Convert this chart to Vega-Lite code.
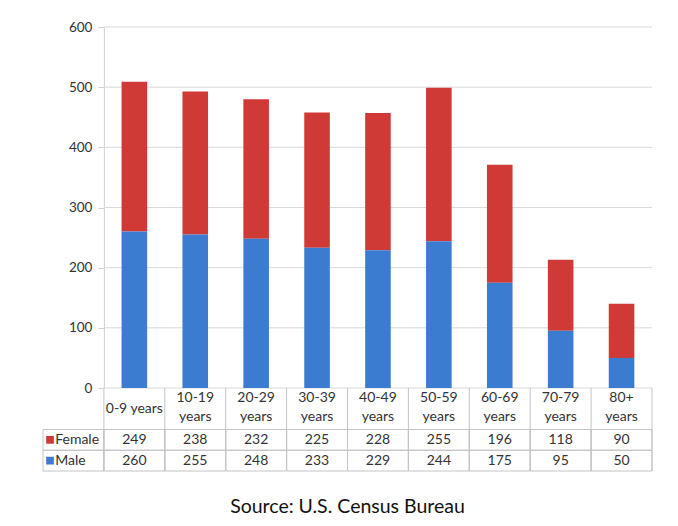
{
  "$schema": "https://vega.github.io/schema/vega-lite/v6.json",
  "padding": {"left": 42, "top": 20, "right": 5, "bottom": 5},
  "background": "white",
  "bounds": "flush",
  "spacing": 0,
  "config": {"font": "Lato", "view": {"stroke": null}},
  "title": {"text": "Source: U.S. Census Bureau", "orient": "bottom", "anchor": "middle", "fontSize": 19.5, "fontWeight": "normal", "color": "#111111", "offset": 26, "font": "Lato"},
  "datasets": {
    "pop": [
      {"age": "0-9 years", "sex": "Female", "value": 249},
      {"age": "10-19 years", "sex": "Female", "value": 238},
      {"age": "20-29 years", "sex": "Female", "value": 232},
      {"age": "30-39 years", "sex": "Female", "value": 225},
      {"age": "40-49 years", "sex": "Female", "value": 228},
      {"age": "50-59 years", "sex": "Female", "value": 255},
      {"age": "60-69 years", "sex": "Female", "value": 196},
      {"age": "70-79 years", "sex": "Female", "value": 118},
      {"age": "80+ years", "sex": "Female", "value": 90},
      {"age": "0-9 years", "sex": "Male", "value": 260},
      {"age": "10-19 years", "sex": "Male", "value": 255},
      {"age": "20-29 years", "sex": "Male", "value": 248},
      {"age": "30-39 years", "sex": "Male", "value": 233},
      {"age": "40-49 years", "sex": "Male", "value": 229},
      {"age": "50-59 years", "sex": "Male", "value": 244},
      {"age": "60-69 years", "sex": "Male", "value": 175},
      {"age": "70-79 years", "sex": "Male", "value": 95},
      {"age": "80+ years", "sex": "Male", "value": 50}
    ],
    "grid": [{"v": 0}, {"v": 100}, {"v": 200}, {"v": 300}, {"v": 400}, {"v": 500}, {"v": 600}]
  },
  "vconcat": [
    {
      "width": 609,
      "height": 361,
      "layer": [
        {
          "data": {"name": "grid"},
          "mark": {"type": "rule", "color": "#d9d9d9", "strokeWidth": 1},
          "encoding": {
            "y": {"field": "v", "type": "quantitative", "scale": {"domain": [0, 600], "nice": false},
                  "axis": {"title": null, "offset": -60.9, "grid": false, "domainColor": "#d0d0d0", "tickColor": "#d0d0d0", "tickSize": 6, "labelPadding": 6, "labelFontSize": 13.5, "labelColor": "#333333", "values": [0, 100, 200, 300, 400, 500, 600]}},
            "x": {"datum": "0-9 years", "type": "nominal", "bandPosition": 0,
                  "scale": {"type": "band", "domain": ["legend", "0-9 years", "10-19 years", "20-29 years", "30-39 years", "40-49 years", "50-59 years", "60-69 years", "70-79 years", "80+ years"], "paddingInner": 0, "paddingOuter": 0},
                  "axis": null},
            "x2": {"value": "width"}
          }
        },
        {
          "data": {"name": "pop"},
          "mark": {"type": "bar", "width": {"band": 0.42}},
          "encoding": {
            "x": {"field": "age", "type": "nominal", "axis": null},
            "y": {"field": "value", "type": "quantitative", "stack": "zero",
                  "axis": {"title": null, "offset": -60.9, "grid": false, "domainColor": "#d0d0d0", "tickColor": "#d0d0d0", "tickSize": 6, "labelPadding": 6, "labelFontSize": 13.5, "labelColor": "#333333", "values": [0, 100, 200, 300, 400, 500, 600]}},
            "color": {"field": "sex", "type": "nominal", "scale": {"domain": ["Female", "Male"], "range": ["#cf3a37", "#3b7bd0"]}, "legend": null},
            "order": {"field": "sex", "sort": "descending"}
          }
        }
      ]
    },
    {
      "width": 609,
      "height": 83,
      "data": {"name": "pop"},
      "layer": [
        {
          "mark": {"type": "rect", "fill": "transparent", "stroke": "#c4c4c4", "strokeWidth": 1},
          "encoding": {
            "x": {"field": "age", "type": "nominal",
                  "scale": {"type": "band", "domain": ["legend", "0-9 years", "10-19 years", "20-29 years", "30-39 years", "40-49 years", "50-59 years", "60-69 years", "70-79 years", "80+ years"], "paddingInner": 0, "paddingOuter": 0},
                  "axis": null},
            "y": {"field": "sex", "type": "nominal",
                  "scale": {"type": "band", "domain": ["h1", "h2", "Female", "Male"], "paddingInner": 0, "paddingOuter": 0},
                  "axis": null}
          }
        },
        {
          "transform": [{"aggregate": [], "groupby": ["sex"]}],
          "mark": {"type": "rect", "fill": "transparent", "stroke": "#c4c4c4", "strokeWidth": 1},
          "encoding": {
            "x": {"datum": "legend", "type": "nominal"},
            "y": {"field": "sex", "type": "nominal"}
          }
        },
        {
          "transform": [{"filter": "datum.sex == 'Male'"}],
          "mark": {"type": "rule", "color": "#c4c4c4", "strokeWidth": 1},
          "encoding": {
            "x": {"field": "age", "type": "nominal", "bandPosition": 0}
          }
        },
        {
          "transform": [{"filter": "datum.sex == 'Male' && datum.age == '80+ years'"}],
          "mark": {"type": "rule", "color": "#c4c4c4", "strokeWidth": 1},
          "encoding": {
            "x": {"field": "age", "type": "nominal", "bandPosition": 1}
          }
        },
        {
          "transform": [{"filter": "datum.sex == 'Male' && datum.age != '0-9 years'"}],
          "mark": {"type": "text", "fontSize": 14, "color": "#333333", "lineBreak": " ", "lineHeight": 19, "baseline": "middle"},
          "encoding": {
            "x": {"field": "age", "type": "nominal"},
            "y": {"datum": "h1", "type": "nominal"},
            "text": {"field": "age", "type": "nominal"}
          }
        },
        {
          "transform": [{"filter": "datum.sex == 'Male' && datum.age == '0-9 years'"}],
          "mark": {"type": "text", "fontSize": 14, "color": "#333333", "baseline": "middle"},
          "encoding": {
            "x": {"field": "age", "type": "nominal"},
            "y": {"datum": "h2", "type": "nominal", "bandPosition": 0},
            "text": {"field": "age", "type": "nominal"}
          }
        },
        {
          "mark": {"type": "text", "fontSize": 14, "color": "#333333", "baseline": "middle"},
          "encoding": {
            "x": {"field": "age", "type": "nominal"},
            "y": {"field": "sex", "type": "nominal"},
            "text": {"field": "value", "type": "quantitative"}
          }
        },
        {
          "transform": [{"aggregate": [], "groupby": ["sex"]}],
          "mark": {"type": "point", "shape": "square", "filled": true, "size": 60, "opacity": 1},
          "encoding": {
            "x": {"datum": "legend", "type": "nominal", "bandPosition": 0.115},
            "y": {"field": "sex", "type": "nominal"},
            "color": {"field": "sex", "type": "nominal", "legend": null}
          }
        },
        {
          "transform": [{"aggregate": [], "groupby": ["sex"]}],
          "mark": {"type": "text", "fontSize": 14, "color": "#333333", "align": "left", "baseline": "middle"},
          "encoding": {
            "x": {"datum": "legend", "type": "nominal", "bandPosition": 0.2},
            "y": {"field": "sex", "type": "nominal"},
            "text": {"field": "sex", "type": "nominal"}
          }
        }
      ]
    }
  ]
}
